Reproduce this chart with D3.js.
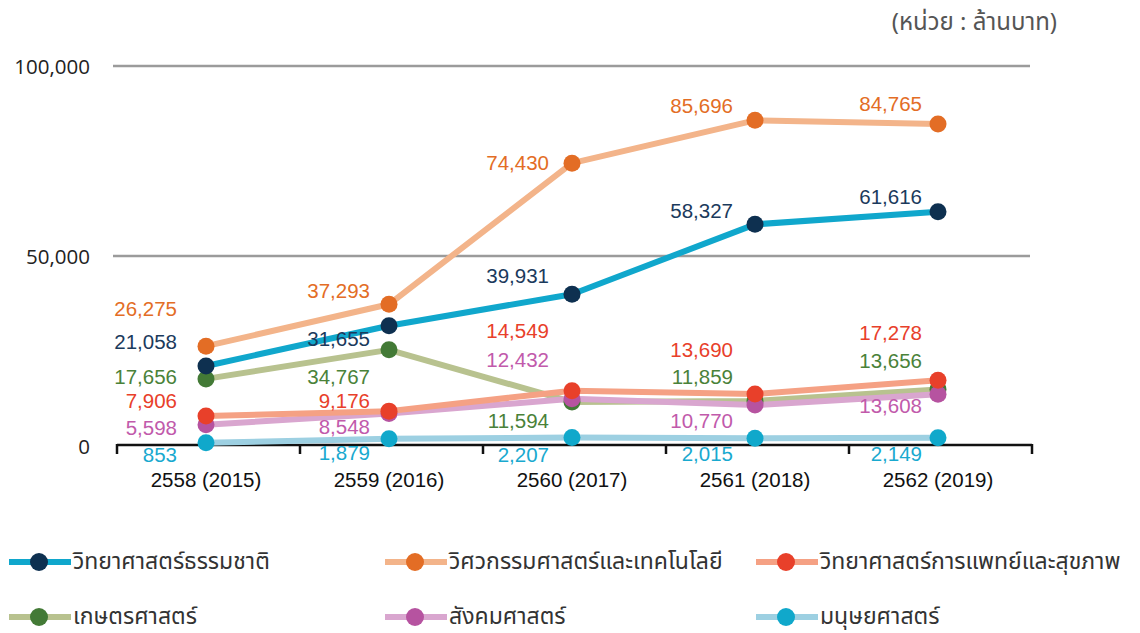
<!DOCTYPE html>
<html>
<head>
<meta charset="utf-8">
<script src="https://cdn.jsdelivr.net/npm/d3@7"></script>
<style>
  body { margin: 0; background: #fff; }
  svg { display: block; }
</style>
</head>
<body>
<div id="chart"></div>
<script>
// years on the x axis
const years = ["2558 (2015)", "2559 (2016)", "2560 (2017)", "2561 (2018)", "2562 (2019)"];

// research budget by field (million baht)
const natSci = [21058, 31655, 39931, 58327, 61616];
const engTech = [26275, 37293, 74430, 85696, 84765];
const medHealth = [7906, 9176, 14549, 13690, 17278];
const agri = [17656, 25300, 11594, 11859, 14900]; // as plotted
const agriPrinted = [17656, 34767, 11594, 11859, 13656]; // as printed on the chart
const social = [5598, 8548, 12432, 10770, 13608];
const humanities = [853, 1879, 2207, 2015, 2149];

const yTicks = [0, 50000, 100000];
const unitText = "(หน่วย : ล้านบาท)";

// label placement: x offset per year column, y offset per label (px)
const labelDx = [-29, -19, -23, -22, -16];

const series = [
  { name: "วิทยาศาสตร์ธรรมชาติ", values: natSci, line: "#10a7cc", dot: "#0e3050", text: "#1b3a5c",
    dy: [-24, 13, -19, -14, -15] },
  { name: "วิศวกรรมศาสตร์และเทคโนโลยี", values: engTech, line: "#f3b48a", dot: "#e36d25", text: "#e36d25",
    dy: [-38, -14, -1, -15, -20] },
  { name: "วิทยาศาสตร์การแพทย์และสุขภาพ", values: medHealth, line: "#f5a184", dot: "#e8402a", text: "#e8402a",
    dy: [-15, -11, -60, -44, -48] },
  { name: "เกษตรศาสตร์", values: agri, printed: agriPrinted, line: "#b8c28f", dot: "#437a36", text: "#4a8239",
    dy: [-2, 27, 19, -24, -29] },
  { name: "สังคมศาสตร์", values: social, line: "#d9a6cf", dot: "#b653a0", text: "#c15aab",
    dy: [3, 13, -39, 15, 11] },
  { name: "มนุษยศาสตร์", values: humanities, line: "#9dd0e2", dot: "#10a8cb", text: "#19a9cf",
    dy: [12, 14, 17, 15, 16] },
];

// drawing order (back to front)
const drawOrder = [5, 3, 4, 2, 0, 1];

const width = 1140, height = 633;
const numFont = "'Liberation Sans', Arial, sans-serif";
const thaiFont = "'Noto Sans Thai', 'Leelawadee UI', Tahoma, 'Open Sans', sans-serif";

const svg = d3.select("#chart").append("svg")
  .attr("width", width)
  .attr("height", height);

const x = d3.scalePoint().domain(years).range([206, 938]);
const xBand = d3.scaleBand().domain(years).range([117, 1032]);
const y = d3.scaleLinear().domain([0, 100000]).range([446, 66]);
const fmt = d3.format(",");

// unit note
svg.append("text")
  .attr("x", 1057).attr("y", 23)
  .attr("text-anchor", "end")
  .attr("dominant-baseline", "central")
  .style("font-family", thaiFont)
  .style("font-size", "24px")
  .style("fill", "#555")
  .text(unitText);

// gridlines
svg.append("g").selectAll("line")
  .data(yTicks.filter((d) => d > 0))
  .join("line")
  .attr("x1", 113).attr("x2", 1030)
  .attr("y1", (d) => y(d)).attr("y2", (d) => y(d))
  .attr("stroke", "#9b9b9b")
  .attr("stroke-width", 2.5);

// y tick labels
svg.append("g").selectAll("text")
  .data(yTicks)
  .join("text")
  .attr("x", 90)
  .attr("y", (d) => y(d))
  .attr("text-anchor", "end")
  .attr("dominant-baseline", "central")
  .style("font-family", "'Open Sans', sans-serif")
  .style("font-size", "20.5px")
  .style("fill", "#222")
  .text((d) => fmt(d));

// x axis line and band ticks
const axisG = svg.append("g");
axisG.append("line")
  .attr("x1", xBand.range()[0]).attr("x2", xBand.range()[1])
  .attr("y1", y(0) - 1).attr("y2", y(0) - 1)
  .attr("stroke", "#111").attr("stroke-width", 2.5);
axisG.selectAll(".tick")
  .data(years.map((d) => xBand(d)).concat([xBand.range()[1]]))
  .join("line")
  .attr("class", "tick")
  .attr("x1", (d) => d).attr("x2", (d) => d)
  .attr("y1", y(0) - 2).attr("y2", y(0) + 8)
  .attr("stroke", "#111").attr("stroke-width", 2.5);

axisG.selectAll(".xlab")
  .data(years)
  .join("text")
  .attr("class", "xlab")
  .attr("x", (d) => x(d))
  .attr("y", 479)
  .attr("text-anchor", "middle")
  .attr("dominant-baseline", "central")
  .style("font-family", numFont)
  .style("font-size", "20.5px")
  .style("fill", "#111")
  .text((d) => d);

// lines
const line = d3.line()
  .x((d, i) => x(years[i]))
  .y((d) => y(d));

svg.append("g").selectAll("path")
  .data(drawOrder.map((i) => series[i]))
  .join("path")
  .attr("d", (s) => line(s.values))
  .attr("fill", "none")
  .attr("stroke", (s) => s.line)
  .attr("stroke-width", 6)
  .attr("stroke-linejoin", "round");

// dots
drawOrder.forEach((i) => {
  const s = series[i];
  svg.append("g").selectAll("circle")
    .data(s.values)
    .join("circle")
    .attr("cx", (d, j) => x(years[j]))
    .attr("cy", (d) => y(d))
    .attr("r", 8.5)
    .attr("fill", s.dot);
});

// value labels
series.forEach((s) => {
  const shown = s.printed || s.values;
  svg.append("g").selectAll("text")
    .data(s.values)
    .join("text")
    .attr("x", (d, j) => x(years[j]) + labelDx[j])
    .attr("y", (d, j) => y(d) + s.dy[j])
    .attr("text-anchor", "end")
    .attr("dominant-baseline", "central")
    .style("font-family", numFont)
    .style("font-size", "20.5px")
    .style("fill", s.text)
    .text((d, j) => fmt(shown[j]));
});

// legend: 3 columns x 2 rows
const legendCols = [9, 385, 756];
const legendRows = [562, 617];
const legend = svg.append("g").selectAll("g")
  .data(series)
  .join("g")
  .attr("transform", (d, i) => `translate(${legendCols[i % 3]},${legendRows[Math.floor(i / 3)]})`);

legend.append("line")
  .attr("x1", 0).attr("x2", 62)
  .attr("stroke", (d) => d.line)
  .attr("stroke-width", 6);
legend.append("circle")
  .attr("cx", 30).attr("r", 9)
  .attr("fill", (d) => d.dot);
legend.append("text")
  .attr("x", 64)
  .attr("dominant-baseline", "central")
  .style("font-family", thaiFont)
  .style("font-size", "23px")
  .style("fill", "#333")
  .text((d) => d.name);
</script>
</body>
</html>
